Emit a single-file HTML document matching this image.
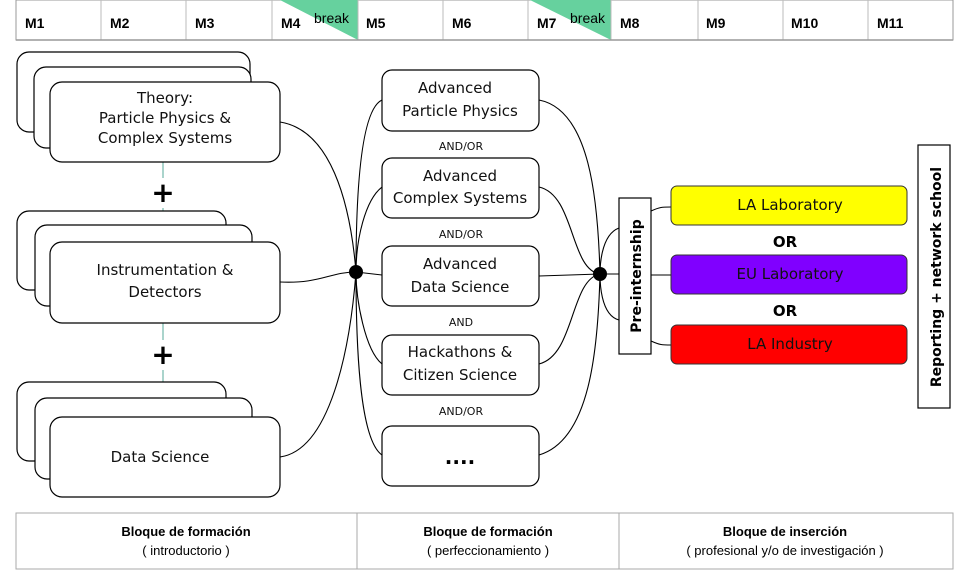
<!DOCTYPE html>
<html><head><meta charset="utf-8"><style>
html,body{margin:0;padding:0;background:#fff;}
svg{display:block;font-family:"DejaVu Sans","Liberation Sans",sans-serif;}
.hd{font-family:"Liberation Sans",sans-serif;font-weight:bold;font-size:14px;}
.b{fill:#fff;stroke:#000;stroke-width:1.2;}
.t{font-size:15px;text-anchor:middle;fill:#111;}
.s{font-size:11px;text-anchor:middle;fill:#111;}
.c{fill:none;stroke:#000;stroke-width:1.1;}
.ft{font-family:"Liberation Sans",sans-serif;font-size:13px;text-anchor:middle;}
</style></head><body>
<svg width="969" height="570" viewBox="0 0 969 570">
<!-- header -->
<rect x="16" y="0" width="937" height="40" fill="#fff" stroke="#999"/>
<polygon points="280,0 358,0 358,40" fill="#66d19e"/>
<polygon points="530,0 611,0 611,40" fill="#66d19e"/>
<g stroke="#bbb">
<line x1="101" y1="0" x2="101" y2="40"/><line x1="186" y1="0" x2="186" y2="40"/><line x1="272" y1="0" x2="272" y2="40"/><line x1="358" y1="0" x2="358" y2="40"/><line x1="443" y1="0" x2="443" y2="40"/><line x1="528" y1="0" x2="528" y2="40"/><line x1="611" y1="0" x2="611" y2="40"/><line x1="698" y1="0" x2="698" y2="40"/><line x1="783" y1="0" x2="783" y2="40"/><line x1="868" y1="0" x2="868" y2="40"/>
</g>
<line x1="16" y1="40" x2="953" y2="40" stroke="#999" stroke-width="1.5"/>
<g class="hd">
<text x="25" y="28">M1</text><text x="110" y="28">M2</text><text x="195" y="28">M3</text><text x="281" y="28">M4</text><text x="366" y="28">M5</text><text x="452" y="28">M6</text><text x="537" y="28">M7</text><text x="620" y="28">M8</text><text x="706" y="28">M9</text><text x="791" y="28">M10</text><text x="877" y="28">M11</text>
</g>
<text x="314" y="23" font-family="Liberation Sans,sans-serif" font-size="14">break</text>
<text x="570" y="23" font-family="Liberation Sans,sans-serif" font-size="14">break</text>

<!-- green connectors -->
<line x1="163" y1="162" x2="163" y2="242" stroke="#5a9" stroke-width="1"/>
<line x1="163" y1="323" x2="163" y2="417" stroke="#5a9" stroke-width="1"/>
<rect x="150" y="178" width="26" height="30" fill="#fff"/>
<rect x="150" y="340" width="26" height="30" fill="#fff"/>
<text x="163" y="202" font-size="28" text-anchor="middle" font-weight="bold">+</text>
<text x="163" y="364" font-size="28" text-anchor="middle" font-weight="bold">+</text>

<!-- stacks -->
<rect class="b" x="17" y="52" width="233" height="80" rx="12"/>
<rect class="b" x="34" y="67" width="217" height="81" rx="12"/>
<rect class="b" x="50" y="82" width="230" height="80" rx="12"/>
<text class="t" x="165" y="103">Theory:</text>
<text class="t" x="165" y="123">Particle Physics &amp;</text>
<text class="t" x="165" y="143">Complex Systems</text>

<rect class="b" x="17" y="211" width="209" height="79" rx="12"/>
<rect class="b" x="35" y="225" width="217" height="81" rx="12"/>
<rect class="b" x="50" y="242" width="230" height="81" rx="12"/>
<text class="t" x="165" y="275">Instrumentation &amp;</text>
<text class="t" x="165" y="297">Detectors</text>

<rect class="b" x="17" y="382" width="209" height="79" rx="12"/>
<rect class="b" x="35" y="398" width="217" height="81" rx="12"/>
<rect class="b" x="50" y="417" width="230" height="80" rx="12"/>
<text class="t" x="160" y="462">Data Science</text>

<!-- curves left -->
<path class="c" d="M280,122 C330,130 350,200 356,272"/>
<path class="c" d="M280,282 C320,284 330,272 356,272"/>
<path class="c" d="M280,457 C330,450 350,350 356,272"/>
<path class="c" d="M382,100 C360,110 356,200 356,272"/>
<path class="c" d="M382,187 C365,200 356,240 356,272"/>
<path class="c" d="M382,275 L356,272"/>
<path class="c" d="M382,364 C365,350 356,300 356,272"/>
<path class="c" d="M382,455 C360,440 356,350 356,272"/>
<circle cx="356" cy="272" r="7"/>

<!-- middle boxes -->
<rect class="b" x="382" y="70" width="157" height="61" rx="10"/>
<text class="t" x="455" y="93">Advanced</text><text class="t" x="460" y="116">Particle Physics</text>
<rect class="b" x="382" y="158" width="157" height="60" rx="10"/>
<text class="t" x="460" y="181">Advanced</text><text class="t" x="460" y="203">Complex Systems</text>
<rect class="b" x="382" y="246" width="157" height="60" rx="10"/>
<text class="t" x="460" y="269">Advanced</text><text class="t" x="460" y="292">Data Science</text>
<rect class="b" x="382" y="335" width="157" height="60" rx="10"/>
<text class="t" x="460" y="357">Hackathons &amp;</text><text class="t" x="460" y="380">Citizen Science</text>
<rect class="b" x="382" y="426" width="157" height="60" rx="10"/>
<text x="460" y="464" font-size="20" font-weight="bold" text-anchor="middle">....</text>
<text class="s" x="461" y="150">AND/OR</text>
<text class="s" x="461" y="238">AND/OR</text>
<text class="s" x="461" y="326">AND</text>
<text class="s" x="461" y="415">AND/OR</text>

<!-- right curves -->
<path class="c" d="M539,100 C590,110 598,200 600,274"/>
<path class="c" d="M539,187 C575,195 570,270 600,274"/>
<path class="c" d="M539,276 L600,274"/>
<path class="c" d="M539,364 C575,355 570,280 600,274"/>
<path class="c" d="M539,455 C590,440 598,350 600,274"/>
<path class="c" d="M619,228 C600,235 600,270 600,274"/>
<path class="c" d="M619,320 C600,315 600,280 600,274"/>
<path class="c" d="M600,274 L619,274"/>
<circle cx="600" cy="274" r="7"/>

<rect class="b" x="619" y="198" width="32" height="156"/>
<text transform="translate(641,276) rotate(-90)" font-size="14" font-weight="bold" text-anchor="middle">Pre-internship</text>
<path class="c" d="M651,211 C660,207 662,207 671,207"/>
<path class="c" d="M651,275 L671,275"/>
<path class="c" d="M651,341 C660,345 662,345 671,345"/>

<rect x="671" y="186" width="236" height="39" rx="6" fill="#ffff00" stroke="#333"/>
<text class="t" x="790" y="210">LA Laboratory</text>
<rect x="671" y="255" width="236" height="39" rx="6" fill="#8000ff" stroke="#333"/>
<text class="t" x="790" y="279">EU Laboratory</text>
<rect x="671" y="325" width="236" height="39" rx="6" fill="#ff0000" stroke="#333"/>
<text class="t" x="790" y="349">LA Industry</text>
<text x="785" y="247" font-size="15" font-weight="bold" text-anchor="middle">OR</text>
<text x="785" y="316" font-size="15" font-weight="bold" text-anchor="middle">OR</text>

<rect class="b" x="918" y="145" width="32" height="263"/>
<text transform="translate(941,277) rotate(-90)" font-size="14" font-weight="bold" text-anchor="middle">Reporting + network school</text>

<!-- footer -->
<rect x="16" y="513" width="937" height="56" fill="#fff" stroke="#aaa"/>
<line x1="357" y1="513" x2="357" y2="569" stroke="#aaa"/>
<line x1="619" y1="513" x2="619" y2="569" stroke="#aaa"/>
<text class="ft" x="186" y="536" font-weight="bold">Bloque de formación</text>
<text class="ft" x="186" y="555">( introductorio )</text>
<text class="ft" x="488" y="536" font-weight="bold">Bloque de formación</text>
<text class="ft" x="488" y="555">( perfeccionamiento )</text>
<text class="ft" x="785" y="536" font-weight="bold">Bloque de inserción</text>
<text class="ft" x="785" y="555">( profesional y/o de investigación )</text>
</svg>
</body></html>
